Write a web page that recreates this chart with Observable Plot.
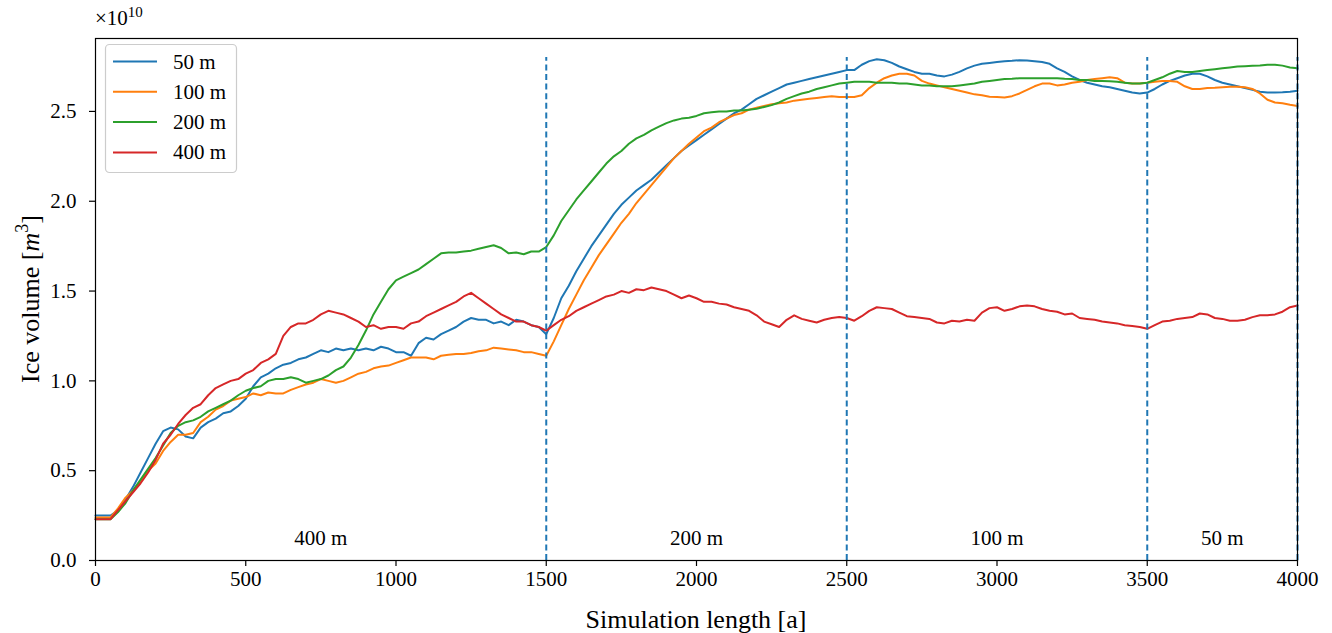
<!DOCTYPE html>
<html>
<head>
<meta charset="utf-8">
<script src="https://cdn.jsdelivr.net/npm/d3@7"></script>
<script src="https://cdn.jsdelivr.net/npm/@observablehq/plot@0.6"></script>
<style>
  html, body { margin: 0; padding: 0; background: #fff; }
  svg { display: block; }
</style>
</head>
<body>
<div id="chart"></div>
<script>
// Simulation years, sampled every 25 a
const years = d3.range(0, 4001, 25);

// Ice volume in units of 1e10 m^3
const vol50 = [
  0.25,0.25,0.25,0.28,0.34,0.41,0.49,0.57,0.65,0.72,
  0.74,0.73,0.69,0.68,0.74,0.77,0.79,0.82,0.83,0.86,
  0.90,0.97,1.02,1.04,1.07,1.09,1.10,1.12,1.13,1.15,
  1.17,1.16,1.18,1.17,1.18,1.17,1.18,1.17,1.19,1.18,
  1.16,1.16,1.14,1.21,1.24,1.23,1.26,1.28,1.30,1.33,
  1.35,1.34,1.34,1.32,1.33,1.31,1.34,1.33,1.31,1.30,
  1.26,1.35,1.46,1.53,1.61,1.68,1.75,1.81,1.87,1.93,
  1.98,2.02,2.06,2.09,2.12,2.16,2.20,2.24,2.28,2.31,
  2.34,2.37,2.40,2.43,2.46,2.49,2.51,2.54,2.57,2.59,
  2.61,2.63,2.65,2.66,2.67,2.68,2.69,2.70,2.71,2.72,
  2.73,2.73,2.76,2.78,2.79,2.785,2.77,2.75,2.735,2.72,
  2.71,2.71,2.70,2.695,2.705,2.72,2.74,2.755,2.765,2.77,
  2.775,2.78,2.782,2.785,2.783,2.78,2.775,2.765,2.74,2.72,
  2.695,2.675,2.66,2.65,2.64,2.635,2.625,2.615,2.605,2.60,
  2.605,2.625,2.65,2.67,2.685,2.70,2.71,2.71,2.695,2.675,
  2.66,2.65,2.64,2.63,2.62,2.61,2.605,2.605,2.607,2.61,
  2.615
];
const vol100 = [
  0.24,0.24,0.24,0.29,0.35,0.39,0.44,0.50,0.54,0.61,
  0.66,0.70,0.70,0.71,0.77,0.80,0.84,0.86,0.89,0.90,
  0.91,0.93,0.92,0.935,0.93,0.93,0.95,0.965,0.98,0.99,
  1.01,1.00,0.99,1.00,1.02,1.04,1.05,1.07,1.08,1.085,
  1.10,1.115,1.13,1.13,1.13,1.12,1.14,1.145,1.15,1.15,
  1.155,1.165,1.17,1.185,1.18,1.175,1.17,1.16,1.16,1.15,
  1.14,1.22,1.31,1.40,1.48,1.56,1.63,1.70,1.76,1.82,
  1.88,1.93,1.99,2.04,2.09,2.14,2.19,2.24,2.28,2.32,
  2.355,2.39,2.41,2.44,2.46,2.48,2.49,2.51,2.52,2.53,
  2.54,2.545,2.55,2.56,2.565,2.57,2.575,2.58,2.585,2.58,
  2.58,2.58,2.59,2.63,2.66,2.685,2.70,2.71,2.71,2.70,
  2.67,2.655,2.645,2.635,2.625,2.615,2.605,2.595,2.59,2.582,
  2.58,2.578,2.585,2.60,2.62,2.64,2.655,2.655,2.645,2.65,
  2.66,2.665,2.675,2.68,2.685,2.69,2.685,2.66,2.655,2.655,
  2.66,2.665,2.67,2.67,2.665,2.64,2.625,2.625,2.63,2.632,
  2.635,2.637,2.637,2.635,2.625,2.60,2.565,2.55,2.545,2.537,
  2.53
];
const vol200 = [
  0.23,0.23,0.23,0.27,0.32,0.39,0.45,0.51,0.57,0.64,
  0.71,0.75,0.77,0.78,0.80,0.83,0.85,0.87,0.89,0.92,
  0.945,0.96,0.97,1.00,1.01,1.01,1.02,1.01,0.99,1.00,
  1.01,1.03,1.06,1.08,1.13,1.20,1.28,1.37,1.44,1.51,
  1.56,1.58,1.60,1.62,1.65,1.68,1.71,1.715,1.715,1.72,
  1.725,1.735,1.745,1.755,1.74,1.71,1.715,1.705,1.72,1.72,
  1.745,1.81,1.89,1.95,2.01,2.06,2.11,2.16,2.21,2.25,
  2.28,2.32,2.35,2.37,2.395,2.415,2.435,2.45,2.46,2.465,
  2.475,2.49,2.495,2.50,2.50,2.505,2.505,2.51,2.515,2.525,
  2.535,2.55,2.57,2.585,2.60,2.61,2.625,2.635,2.645,2.655,
  2.66,2.665,2.665,2.665,2.66,2.66,2.66,2.655,2.655,2.65,
  2.645,2.645,2.64,2.64,2.64,2.645,2.65,2.655,2.665,2.67,
  2.675,2.68,2.682,2.685,2.685,2.685,2.685,2.685,2.685,2.682,
  2.68,2.675,2.675,2.67,2.67,2.668,2.665,2.66,2.655,2.655,
  2.66,2.675,2.69,2.71,2.725,2.72,2.72,2.725,2.73,2.735,
  2.74,2.745,2.75,2.752,2.754,2.756,2.76,2.76,2.755,2.745,
  2.74
];
const vol400 = [
  0.23,0.23,0.23,0.28,0.33,0.38,0.43,0.49,0.56,0.65,
  0.70,0.76,0.81,0.85,0.87,0.92,0.96,0.98,1.00,1.01,
  1.04,1.06,1.10,1.12,1.15,1.25,1.30,1.32,1.32,1.34,
  1.37,1.39,1.38,1.37,1.35,1.33,1.30,1.31,1.29,1.30,
  1.30,1.29,1.32,1.33,1.36,1.38,1.40,1.42,1.44,1.47,
  1.49,1.46,1.43,1.40,1.37,1.35,1.33,1.33,1.31,1.30,
  1.28,1.31,1.34,1.36,1.39,1.41,1.43,1.45,1.47,1.48,
  1.50,1.49,1.51,1.505,1.52,1.51,1.50,1.48,1.46,1.475,
  1.46,1.44,1.44,1.43,1.425,1.41,1.40,1.39,1.365,1.33,
  1.315,1.30,1.34,1.365,1.345,1.335,1.325,1.34,1.35,1.355,
  1.35,1.335,1.36,1.39,1.41,1.405,1.40,1.38,1.36,1.355,
  1.35,1.345,1.325,1.32,1.335,1.33,1.34,1.335,1.38,1.405,
  1.41,1.39,1.40,1.415,1.42,1.415,1.40,1.39,1.385,1.37,
  1.375,1.35,1.345,1.34,1.33,1.325,1.32,1.31,1.305,1.30,
  1.29,1.31,1.33,1.335,1.345,1.35,1.355,1.375,1.37,1.35,
  1.345,1.335,1.335,1.34,1.355,1.365,1.365,1.37,1.385,1.41,
  1.42
];

const seriesNames = ["50 m", "100 m", "200 m", "400 m"];
const seriesColors = ["#1f77b4", "#ff7f0e", "#2ca02c", "#d62728"];
const seriesValues = [vol50, vol100, vol200, vol400];

const phaseBoundaries = [1500, 2500, 3500, 4000];
const phaseTop = 2.8;
const phaseNames = ["400 m", "200 m", "100 m", "50 m"];
const phaseCenters = [750, 2000, 3000, 3750];

const xTicks = [0, 500, 1000, 1500, 2000, 2500, 3000, 3500, 4000];
const yTicks = [0, 0.5, 1.0, 1.5, 2.0, 2.5];

const table = [];
seriesNames.forEach((name, s) => {
  years.forEach((yr, i) => table.push({series: name, year: yr, v: seriesValues[s][i]}));
});

const font = "'Liberation Serif', 'DejaVu Serif', serif";
const W = 1332, H = 633, mL = 95, mR = 35, mT = 38, mB = 73;
const fs = 21, fsLabel = 26;

const svg = Plot.plot({
  width: W, height: H,
  marginLeft: mL, marginRight: mR, marginTop: mT, marginBottom: mB,
  style: {fontFamily: font, fontSize: fs + "px", background: "white", color: "black"},
  x: {domain: [0, 4000]},
  y: {domain: [0, 2.906]},
  color: {domain: seriesNames, range: seriesColors},
  marks: [
    Plot.line(table, {x: "year", y: "v", z: "series", stroke: "series", strokeWidth: 2, curve: "linear"}),
    Plot.ruleX(phaseBoundaries, {y1: 0, y2: phaseTop, stroke: "#1f77b4", strokeWidth: 2, strokeDasharray: "6,3.6"}),
    Plot.text(phaseNames, {x: (d, i) => phaseCenters[i], frameAnchor: "bottom", dy: -16, fontSize: fs}),
    Plot.frame({stroke: "black", strokeWidth: 1.2}),
    Plot.axisX({ticks: xTicks, tickSize: 6, tickPadding: 5, tickFormat: d3.format("d"), label: null, fontSize: fs, strokeWidth: 1.2}),
    Plot.axisY({ticks: yTicks, tickSize: 6, tickPadding: 13, tickFormat: d3.format(".1f"), label: null, fontSize: fs, strokeWidth: 1.2})
  ]
});

document.getElementById("chart").appendChild(svg);

const root = d3.select(svg);

// offset multiplier
const off = root.append("text")
  .attr("x", mL).attr("y", 25).attr("text-anchor", "start")
  .attr("font-family", font).attr("font-size", fs).attr("fill", "black");
off.append("tspan").text("×10");
off.append("tspan").attr("font-size", 15).attr("dy", -8).text("10");

// axis labels
root.append("text")
  .attr("x", mL + (W - mL - mR) / 2).attr("y", 628)
  .attr("text-anchor", "middle")
  .attr("font-family", font).attr("font-size", fsLabel).attr("fill", "black")
  .text("Simulation length [a]");

const yl = root.append("text")
  .attr("transform", `translate(39,${mT + (H - mT - mB) / 2}) rotate(-90)`)
  .attr("text-anchor", "middle")
  .attr("font-family", font).attr("font-size", fsLabel).attr("fill", "black");
yl.append("tspan").text("Ice volume [");
yl.append("tspan").attr("font-style", "italic").text("m");
yl.append("tspan").attr("font-size", 18).attr("dy", -11).text("3");
yl.append("tspan").attr("dy", 11).text("]");

// legend
const lg = root.append("g");
lg.append("rect")
  .attr("x", 105.5).attr("y", 44.5).attr("width", 131).attr("height", 128)
  .attr("rx", 4).attr("fill", "white").attr("fill-opacity", 0.85)
  .attr("stroke", "#cccccc").attr("stroke-width", 1.2);
seriesNames.forEach((name, i) => {
  const cy = 61.5 + i * 30.3;
  lg.append("line")
    .attr("x1", 113).attr("x2", 157).attr("y1", cy).attr("y2", cy)
    .attr("stroke", seriesColors[i]).attr("stroke-width", 2);
  lg.append("text")
    .attr("x", 173).attr("y", cy + 7).attr("text-anchor", "start")
    .attr("font-family", font).attr("font-size", fs).attr("fill", "black")
    .text(name);
});
</script>
</body>
</html>
